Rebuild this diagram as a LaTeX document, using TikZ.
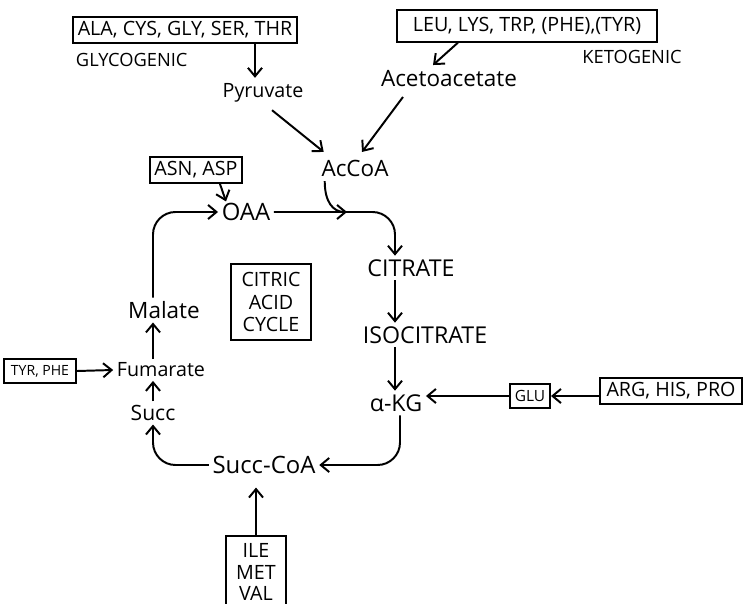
\documentclass[tikz,border=0pt]{standalone}
\usepackage{fontspec}
\setmainfont{Open Sans}
\usetikzlibrary{arrows.meta,calc}

\tikzset{
  aabox/.style={draw,line width=1.4pt,inner sep=1pt,font=\fontsize{14}{16}\selectfont},
  metab/.style={inner sep=2pt,font=\fontsize{14}{16}\selectfont},
  capmetab/.style={inner sep=2pt,font=\fontsize{16.5}{18}\selectfont},
  tag/.style={inner sep=0pt,font=\fontsize{13}{15}\selectfont},
}

\begin{document}
\begin{tikzpicture}[x=0.025cm,y=-0.025cm,line width=1.4pt,
    >={Straight Barb[length=6pt,width=10pt]}]
  \useasboundingbox (0,0) rectangle (743,604);

  % entries from above
  \node[aabox,minimum width=5.6cm,minimum height=0.65cm] (glyco) at (185,30) {ALA, CYS, GLY, SER, THR};
  \node[tag,anchor=west] (glycotag) at (75,60) {GLYCOGENIC};
  \node[aabox,minimum width=6.5cm,minimum height=0.78cm] (keto) at (527,26) {LEU, LYS, TRP, (PHE),(TYR)};
  \node[tag] (ketotag) at (632,57) {KETOGENIC};

  \node[metab] (pyruvate) at (263,93) {Pyruvate};
  \node[metab,font=\fontsize{16}{18}\selectfont] (aceto) at (449,79) {Acetoacetate};
  \node[metab,font=\fontsize{16}{18}\selectfont] (accoa) at (355,168) {AcCoA};

  % the cycle
  \node[aabox,minimum width=2.3cm,minimum height=0.65cm] (asn) at (196,170) {ASN, ASP};
  \node[metab,font=\fontsize{17}{19}\selectfont] (oaa) at (246,212) {OAA};
  \node[capmetab] (citrate) at (411,268) {CITRATE};
  \node[capmetab] (isocit) at (425,335) {ISOCITRATE};
  \node[metab,font=\fontsize{16.5}{18}\selectfont] (akg) at (396,403) {α-KG};
  \node[metab,font=\fontsize{17}{19}\selectfont] (succcoa) at (264,465) {Succ-CoA};
  \node[metab,font=\fontsize{15}{17}\selectfont] (succ) at (153,413) {Succ};
  \node[metab] (fumarate) at (161,370) {Fumarate};
  \node[metab,font=\fontsize{16}{18}\selectfont] (malate) at (164,310) {Malate};
  \node[draw,line width=1.4pt,minimum width=2.0cm,minimum height=1.9cm,align=center,
    font=\fontsize{14}{16}\selectfont] (cycle) at (271,302) {CITRIC\\ACID\\CYCLE};

  % entries from the sides
  \node[aabox,minimum width=1.8cm,minimum height=0.6cm,font=\fontsize{10}{12}\selectfont] (tyrphe) at (40,371) {TYR, PHE};
  \node[aabox,minimum width=1.0cm,minimum height=0.58cm,font=\fontsize{11}{13}\selectfont] (glu) at (530,396) {GLU};
  \node[aabox,minimum width=3.55cm,minimum height=0.65cm] (arg) at (671,391) {ARG, HIS, PRO};
  \node[aabox,minimum width=1.5cm,minimum height=1.8cm,align=center,
    font=\fontsize{14}{15.5}\selectfont] (ile) at (256,572) {ILE\\MET\\VAL};

  \coordinate (rcol) at (395,0);
  \coordinate (join) at (347,212);

  \draw[->] (glyco.south -| 255,0) -- ($(pyruvate.north -| 255,0)+(0,-2)$);
  \draw[->] ($(keto.south)+(-69,0)$) -- ($(aceto.north)+(-16,-2)$);
  \draw[->] ($(pyruvate.south)+(9,4)$) -- ($(accoa.north west)+(6,-4)$);
  \draw[->] ($(aceto.south)+(-46,6)$) -- ($(accoa.north)+(7,-4)$);
  \draw[->] ($(asn.south)+(24,0)$) -- ($(oaa.north west)+(8,2)$);

  \begin{scope}[rounded corners=16pt]
  \draw[->] (oaa.east) -- (oaa.east -| rcol) -- (citrate.north -| rcol);
  \draw[->] (citrate.south -| rcol) -- (isocit.north -| rcol);
  \draw[->] (isocit.south -| rcol) -- (akg.north -| rcol);
  \draw[->] ($(akg.south)+(4,0)$) -- ($(akg.south |- succcoa)+(4,0)$) -- (succcoa.east);
  \draw[->] (succcoa.west) -- (succ.south |- succcoa) -- (succ.south);
  \draw[->] (succ.north) -- (succ.north |- fumarate.south);
  \draw[->] (fumarate.north -| succ) -- (malate.south -| succ);
  \draw[->] (malate.north -| succ) -- (succ |- oaa) -- (oaa.west);
  \end{scope}
  \draw[->] ($(accoa.south west)+(7,1)$) .. controls ($(accoa.south west)+(7,22)$)
    and ($(join)+(-14,0)$) .. (join);

  \draw[->] (tyrphe.east) -- (fumarate.west);
  \draw[->] (glu.west) -- (glu.west -| akg.east);
  \draw[->] (arg.west |- glu.east) -- (glu.east);
  \draw[->] (ile.north) -- ($(ile.north |- succcoa.south)+(0,10)$);
\end{tikzpicture}
\end{document}
